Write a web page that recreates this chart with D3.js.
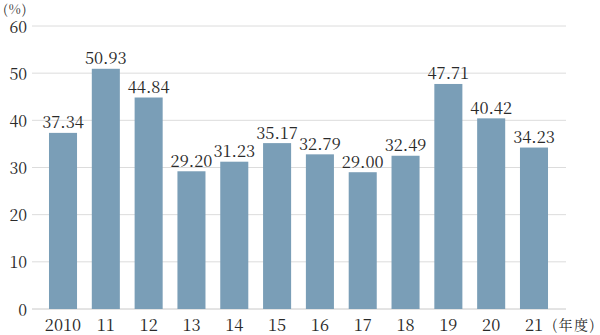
<!DOCTYPE html>
<html><head><meta charset="utf-8">
<script src="https://cdn.jsdelivr.net/npm/d3@7"></script>
<style>body{margin:0;background:#fff}svg{display:block}</style>
</head><body>
<svg id="c" width="600" height="335"></svg>
<script>
const categories = ["2010","11","12","13","14","15","16","17","18","19","20","21"];
const values = [37.34,50.93,44.84,29.20,31.23,35.17,32.79,29.00,32.49,47.71,40.42,34.23];
const yTicks = [0,10,20,30,40,50,60];
const yUnit = "(%)";
const xUnit = "(年度)";

const FONT = '"Noto Serif CJK JP","Liberation Serif",serif';
const TXT = "#2a2a2a";
const svg = d3.select("#c").style("font-family",FONT);
const x = d3.scaleBand().domain(categories).range([41.6,555.4]).paddingInner(0.345).paddingOuter(0.1725);
const y = d3.scaleLinear().domain([0,60]).range([309,26]);

svg.append("g").selectAll("line").data(yTicks).join("line")
  .attr("x1",32).attr("x2",566).attr("y1",d=>y(d)).attr("y2",d=>y(d))
  .attr("stroke",d=>d===0?"#c8c8c8":"#dcdcdc").attr("stroke-width",1);

svg.append("g").selectAll("text").data(yTicks).join("text")
  .attr("x",27).attr("y",d=>y(d)+6.5).attr("text-anchor","end")
  .style("font-family",FONT).style("font-size","16px").attr("fill",TXT).text(d=>d);

svg.append("g").selectAll("rect").data(values).join("rect")
  .attr("x",(d,i)=>x(categories[i])).attr("width",x.bandwidth())
  .attr("y",d=>y(d)).attr("height",d=>y(0)-y(d)).attr("fill","#7a9eb7");

svg.append("g").selectAll("text").data(values).join("text")
  .attr("x",(d,i)=>x(categories[i])+x.bandwidth()/2).attr("y",d=>y(d)-4.5)
  .attr("text-anchor","middle").style("font-family",FONT).style("font-size","16.5px")
  .attr("fill",TXT).text(d=>d.toFixed(2));

svg.append("g").selectAll("text").data(categories).join("text")
  .attr("x",d=>x(d)+x.bandwidth()/2).attr("y",331)
  .attr("text-anchor","middle").style("font-family",FONT).style("font-size","16.5px")
  .attr("fill",TXT).text(d=>d);

svg.append("text").attr("x",3).attr("y",14).style("font-family",FONT).style("font-size","13px")
  .attr("letter-spacing",1).attr("fill",TXT).text(yUnit);
svg.append("text").attr("x",552).attr("y",330).style("font-family",FONT).style("font-size","14px")
  .attr("letter-spacing",1.5).attr("fill",TXT).text(xUnit);
</script>
</body></html>
